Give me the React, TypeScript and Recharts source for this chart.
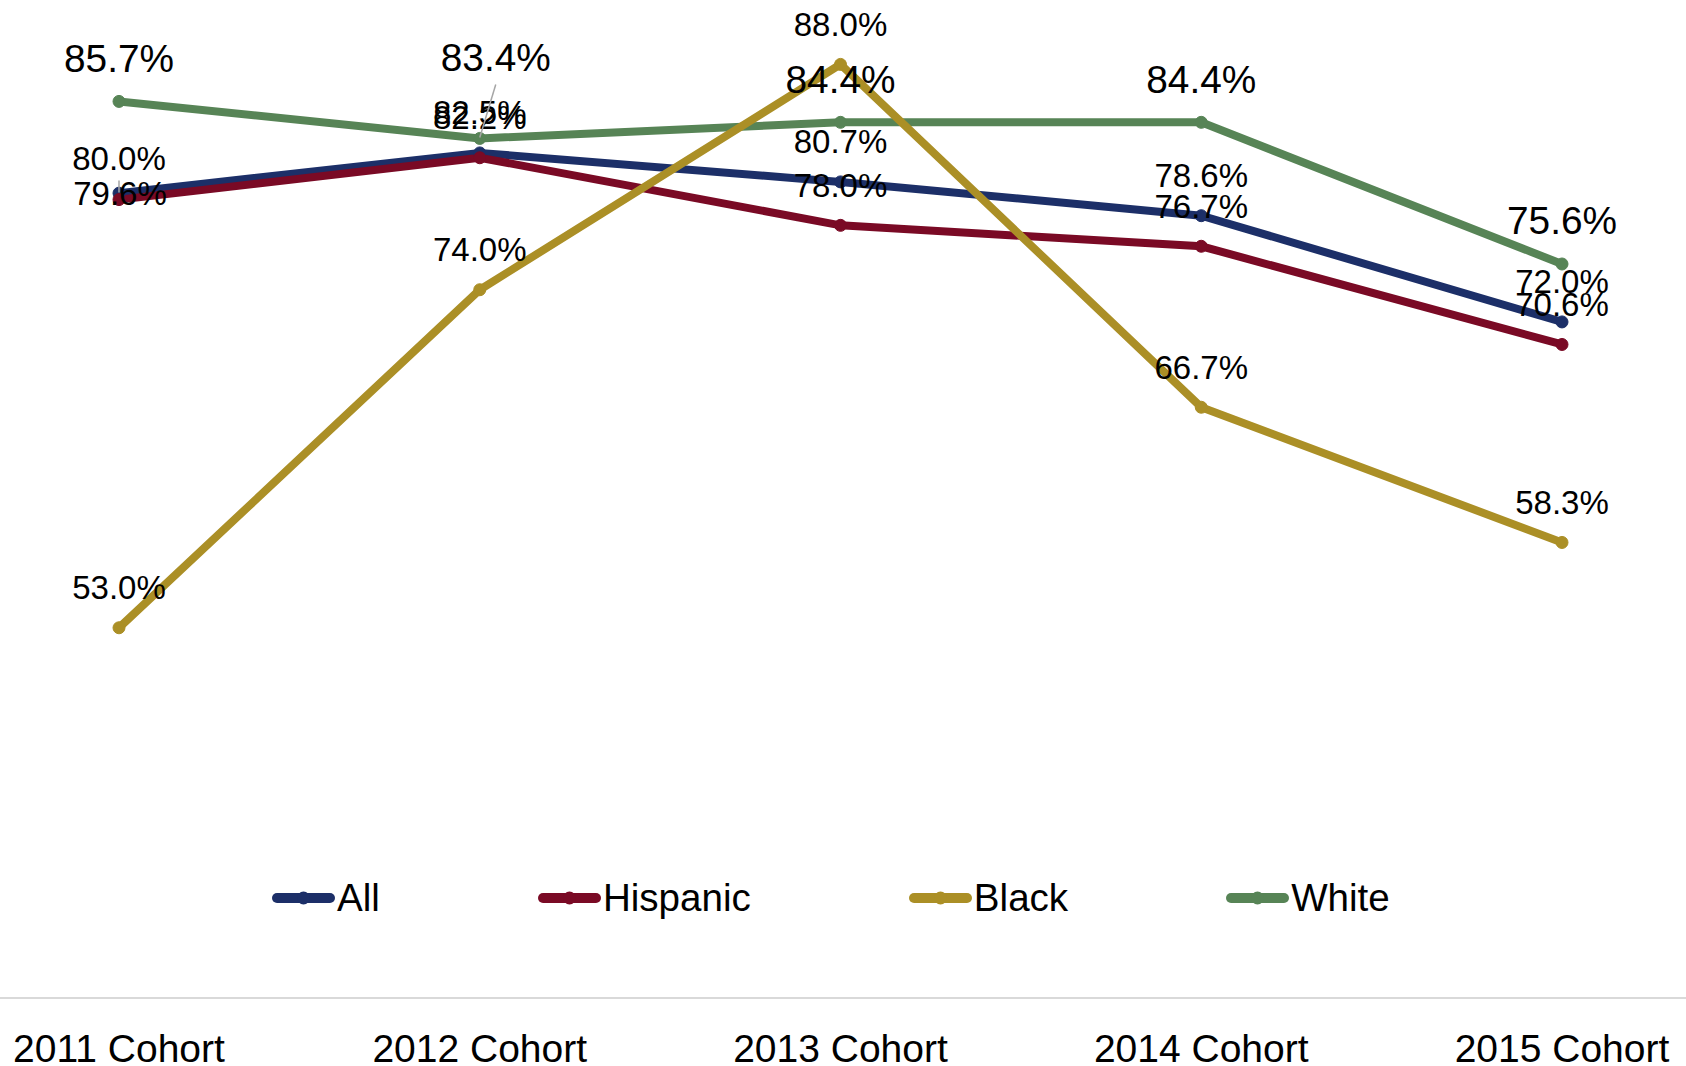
import React from 'react';
import { LineChart, Line, XAxis, YAxis, Legend, LabelList } from 'recharts';

const categories = ['2011 Cohort', '2012 Cohort', '2013 Cohort', '2014 Cohort', '2015 Cohort'];
const allValues = [80.0, 82.5, 80.7, 78.6, 72.0];
const hispanicValues = [79.6, 82.2, 78.0, 76.7, 70.6];
const blackValues = [53.0, 74.0, 88.0, 66.7, 58.3];
const whiteValues = [85.7, 83.4, 84.4, 84.4, 75.6];

const seriesNames = ['All', 'Hispanic', 'Black', 'White'];
const seriesColors: Record<string, string> = {
  All: '#1c2f68',
  Hispanic: '#7a0a25',
  Black: '#ab8f26',
  White: '#578456',
};

const data = categories.map((c, i) => ({
  name: c,
  All: allValues[i],
  Hispanic: hispanicValues[i],
  Black: blackValues[i],
  White: whiteValues[i],
}));

const FONT = '"Liberation Sans", Arial, Helvetica, sans-serif';

type Override = { dx?: number; dy?: number; leader?: [number, number, number, number] };
const labelOverrides: Record<string, Record<number, Override>> = {
  White: { 1: { dx: 16, dy: -81, leader: [0, -1, 16, -54] } },
  All: { 0: { dy: -35 } },
  Hispanic: { 0: { dx: 1, dy: -6.5, leader: [0, -19, 0, -7] } },
};

const makeLabel = (key: string, fontSize: number, baseDy: number) => (props: any) => {
  const { x, y, value, index } = props;
  if (x == null || y == null) return null;
  const ov = (labelOverrides[key] || {})[index] || {};
  const dx = ov.dx ?? 0;
  const dy = ov.dy ?? baseDy;
  return (
    <g key={`${key}-lbl-${index}`}>
      {ov.leader && (
        <line
          x1={x + ov.leader[0]}
          y1={y + ov.leader[1]}
          x2={x + ov.leader[2]}
          y2={y + ov.leader[3]}
          stroke="#a6a6a6"
          strokeWidth={1.5}
        />
      )}
      <text
        x={x + dx}
        y={y + dy}
        textAnchor="middle"
        dominantBaseline="central"
        fontSize={fontSize}
        fontFamily={FONT}
        fill="#000"
      >
        {Number(value).toFixed(1)}%
      </text>
    </g>
  );
};

const renderTick = (props: any) => {
  const { x, y, payload } = props;
  return (
    <text
      x={x}
      y={y}
      textAnchor="middle"
      dominantBaseline="central"
      fontSize={39}
      fontFamily={FONT}
      fill="#000"
    >
      {payload.value}
    </text>
  );
};

const renderLegend = () => (
  <div style={{ display: 'flex', alignItems: 'center', fontFamily: FONT, fontSize: 38.6, lineHeight: '44px', whiteSpace: 'nowrap' }}>
    {seriesNames.map((name, i) => (
      <div key={name} style={{ display: 'flex', alignItems: 'center', marginRight: i < seriesNames.length - 1 ? 158 : 0 }}>
        <svg width={63} height={20} style={{ display: 'block' }}>
          <line x1={5} y1={10} x2={58} y2={10} stroke={seriesColors[name]} strokeWidth={10} strokeLinecap="round" />
          <circle cx={31.5} cy={10} r={6.5} fill={seriesColors[name]} />
        </svg>
        <span style={{ marginLeft: 2, color: '#000' }}>{name}</span>
      </div>
    ))}
  </div>
);

const drawOrder = ['All', 'Hispanic', 'White', 'Black'];

export default function App() {
  return (
    <div style={{ position: 'absolute', left: 0, top: 0, width: 1686, height: 1066, background: '#fff' }}>
      <LineChart width={1686} height={1066} data={data} margin={{ top: 0, right: 0, bottom: 0, left: 0 }}>
        <XAxis
          dataKey="name"
          height={68}
          padding={{ left: 119, right: 124 }}
          axisLine={{ stroke: '#d9d9d9', strokeWidth: 2 }}
          tickLine={false}
          tickSize={0}
          tickMargin={50}
          tick={renderTick}
          interval={0}
        />
        <YAxis hide domain={[30, 92]} type="number" allowDataOverflow />
        <Legend verticalAlign="middle" layout="horizontal" content={renderLegend} wrapperStyle={{ position: 'absolute', left: 272, top: 876, width: 'auto', height: 44 }} />
        {drawOrder.map((key) => (
          <Line
            key={key}
            type="linear"
            dataKey={key}
            stroke={seriesColors[key]}
            strokeWidth={8}
            dot={{ r: 6, fill: seriesColors[key], stroke: seriesColors[key], strokeWidth: 1 }}
            activeDot={false}
            isAnimationActive={false}
            legendType="none"
          />
        ))}
        {drawOrder.map((key) => (
          <Line
            key={`${key}-labels`}
            type="linear"
            dataKey={key}
            stroke="none"
            strokeOpacity={0}
            dot={false}
            activeDot={false}
            isAnimationActive={false}
            legendType="none"
          >
            <LabelList dataKey={key} content={makeLabel(key, key === 'White' ? 38.8 : 33, key === 'White' ? -43 : -40)} />
          </Line>
        ))}
      </LineChart>
    </div>
  );
}
